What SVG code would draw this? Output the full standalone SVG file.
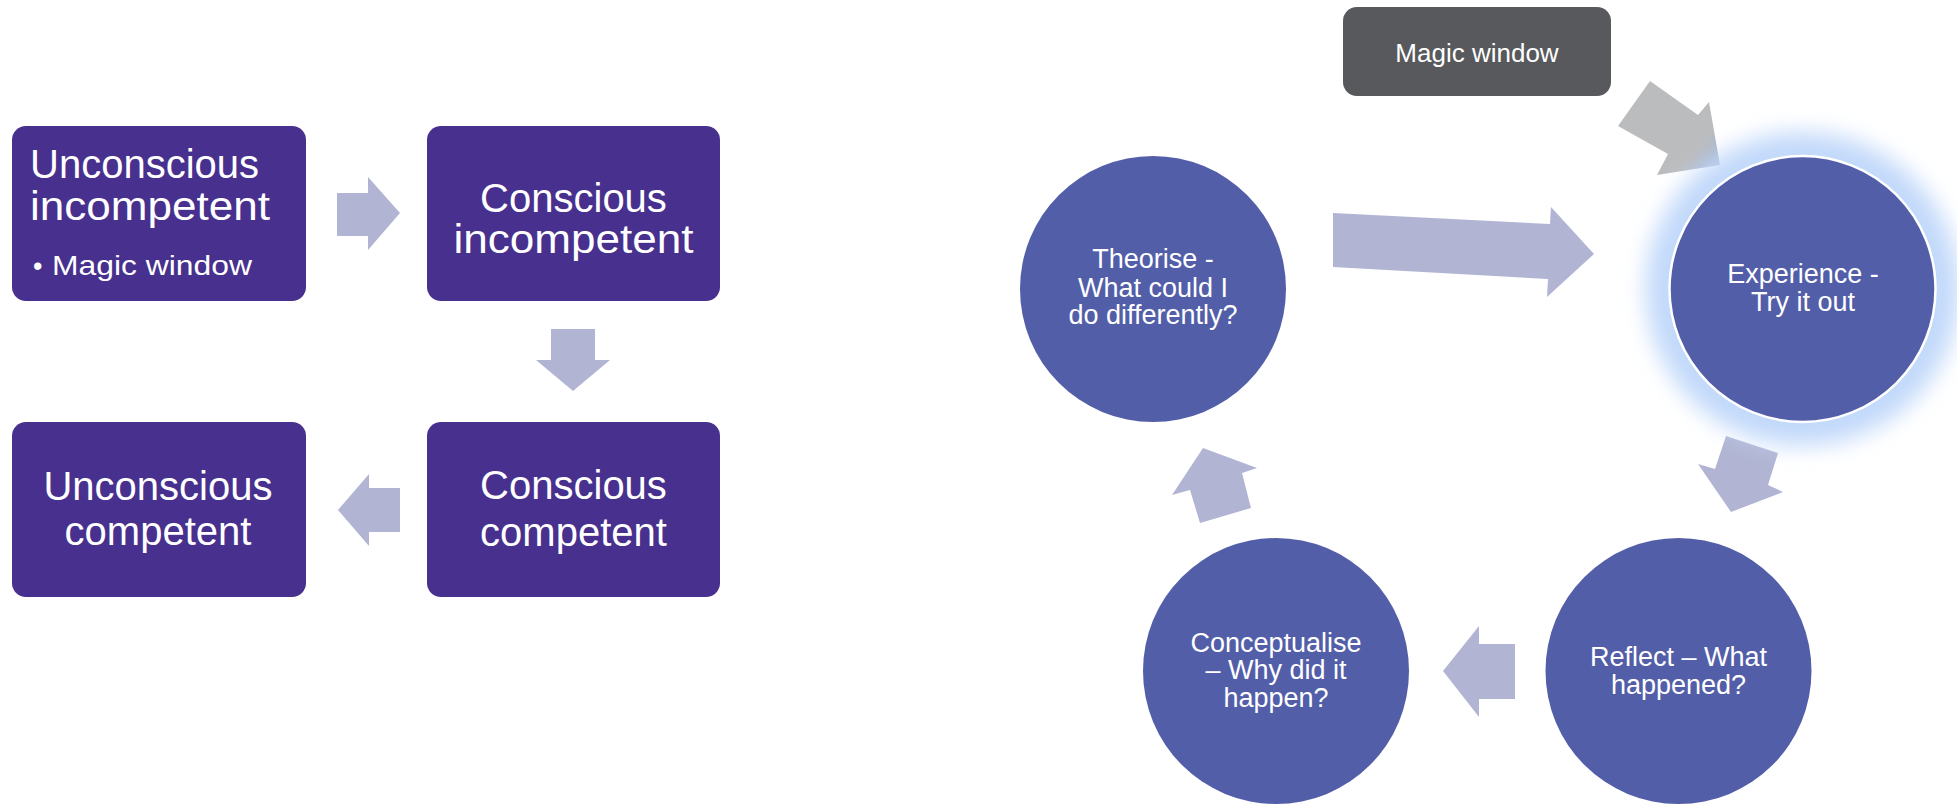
<svg xmlns="http://www.w3.org/2000/svg" width="1957" height="804" viewBox="0 0 1957 804">
<style>
.box{fill:#48308e;}
.circ{fill:#535ea9;}
.arr{fill:#b1b5d3;}
.t{font-family:"Liberation Sans",Arial,sans-serif;fill:#ffffff;}
.big{font-size:40px;}
.mid{font-size:27px;}
.c{text-anchor:middle;}
</style>
<defs>
<filter id="glow" x="-30%" y="-30%" width="160%" height="160%">
<feGaussianBlur stdDeviation="11"/>
</filter>
<linearGradient id="greyArr" x1="1620" y1="100" x2="1720" y2="170" gradientUnits="userSpaceOnUse">
<stop offset="0" stop-color="#bbbcbe"/>
<stop offset="0.75" stop-color="#bbbcbe"/>
<stop offset="1" stop-color="#9fb3d4"/>
</linearGradient>
</defs>
<rect width="1957" height="804" fill="#ffffff"/>

<g id="connectors">
<polygon class="arr" points="337,193 368,193 368,177 400,213 368,250 368,236 337,236"/>
<polygon class="arr" points="551,329 595,329 595,360 610,360 573,391 536,360 551,360"/>
<polygon class="arr" points="400,488 369,488 369,474 338,510 369,546 369,532 400,532"/>
<polygon fill="url(#greyArr)" points="1618,126 1650,81 1698,115 1709,102 1720,165 1657,175 1668,154"/>
<polygon class="arr" points="1333,213 1550,224 1551,207 1594,254 1547,297 1548,279 1333,267"/>
<polygon class="arr" points="1726,436 1778,453 1768,485 1783,492 1731,512 1698,464 1715,469"/>
<polygon class="arr" points="1515,644 1479,644 1479,626 1443,671 1479,717 1479,699 1515,699"/>
<polygon class="arr" points="1200,523 1251,508 1242,473 1257,468 1203,448 1172,495 1190,490"/>
</g>

<g id="node-unconscious-incompetent">
<rect class="box" x="12" y="126" width="294" height="175" rx="14"/>
<text class="t big" x="30" y="178">Unconscious</text>
<text class="t big" x="30" y="220" textLength="240" lengthAdjust="spacingAndGlyphs">incompetent</text>
<text class="t" x="33" y="275" font-size="27">•</text>
<text class="t" x="52" y="275" font-size="28" textLength="200" lengthAdjust="spacingAndGlyphs">Magic window</text>
</g>

<g id="node-conscious-incompetent">
<rect class="box" x="427" y="126" width="293" height="175" rx="14"/>
<text class="t big c" x="573.5" y="212">Conscious</text>
<text class="t big c" x="573.5" y="253" textLength="240" lengthAdjust="spacingAndGlyphs">incompetent</text>
</g>

<g id="node-unconscious-competent">
<rect class="box" x="12" y="422" width="294" height="175" rx="14"/>
<text class="t big c" x="158" y="500">Unconscious</text>
<text class="t big c" x="158" y="545">competent</text>
</g>

<g id="node-conscious-competent">
<rect class="box" x="427" y="422" width="293" height="175" rx="14"/>
<text class="t big c" x="573.5" y="499">Conscious</text>
<text class="t big c" x="573.5" y="546">competent</text>
</g>

<g id="node-magic-window">
<rect x="1343" y="7" width="268" height="89" rx="14" fill="#58595c"/>
<text class="t c" x="1477" y="62" font-size="26">Magic window</text>
</g>

<g id="node-experience">
<circle cx="1802.5" cy="289" r="157" fill="#c2d9fa" filter="url(#glow)"/>
<circle class="circ" cx="1802.5" cy="289" r="133" stroke="#ffffff" stroke-width="2.5"/>
<text class="t mid c" x="1803" y="283">Experience -</text>
<text class="t mid c" x="1803" y="311">Try it out</text>
</g>

<g id="node-reflect">
<circle class="circ" cx="1678.5" cy="671" r="133"/>
<text class="t mid c" x="1678.5" y="666">Reflect – What</text>
<text class="t mid c" x="1678.5" y="694">happened?</text>
</g>

<g id="node-conceptualise">
<circle class="circ" cx="1276" cy="671" r="133"/>
<text class="t mid c" x="1276" y="652">Conceptualise</text>
<text class="t mid c" x="1276" y="679">– Why did it</text>
<text class="t mid c" x="1276" y="707">happen?</text>
</g>

<g id="node-theorise">
<circle class="circ" cx="1153" cy="289" r="133"/>
<text class="t mid c" x="1153" y="268">Theorise -</text>
<text class="t mid c" x="1153" y="297">What could I</text>
<text class="t mid c" x="1153" y="324">do differently?</text>
</g>
</svg>
